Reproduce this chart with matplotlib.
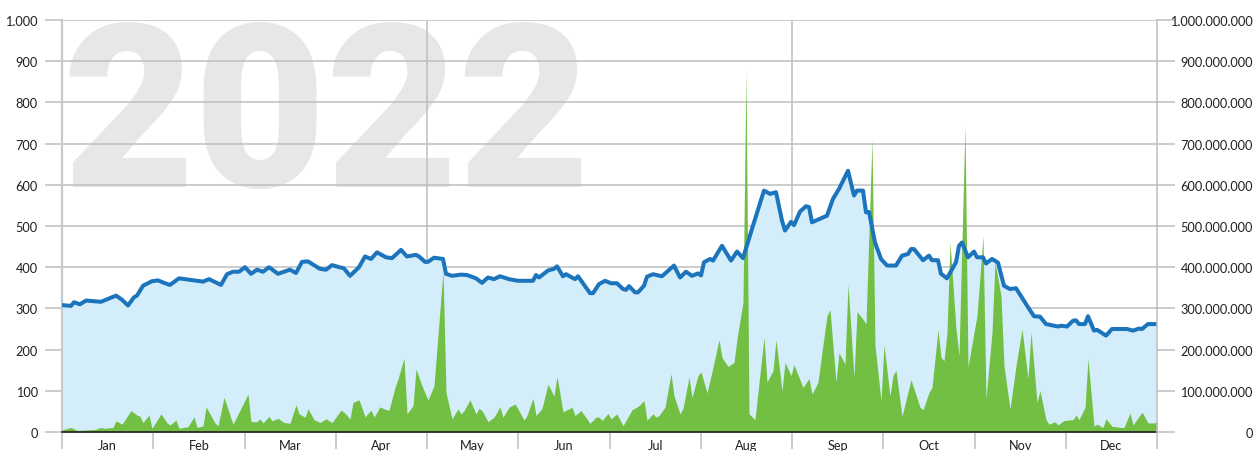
import numpy as np
import matplotlib.pyplot as plt
from matplotlib.ticker import FuncFormatter

plt.rcParams.update({'font.family': ['Lato', 'DejaVu Sans']})
plt.rcParams.update({'font.size': 9.2})

# Price (left axis) by day of year
price_day = [0, 3, 4, 6, 8, 13, 18, 20, 22, 24, 25, 27, 30, 32, 34, 36, 39, 42, 47, 49,
             53, 55, 57, 59, 61, 63, 65, 67, 69, 72, 74, 76, 78, 80, 82, 86, 88, 90, 94, 96,
             99, 101, 103, 105, 108, 110, 113, 115, 118, 119, 121, 122, 124, 127, 128, 130,
             133, 135, 138, 140, 142, 144, 146, 149, 152, 157, 158, 159, 162, 164, 165, 167,
             168, 171, 172, 176, 177, 179, 181, 183, 185, 187, 188, 189, 191, 192, 194, 195,
             197, 200, 204, 206, 208, 210, 212, 213, 214, 216, 217, 220, 223, 225, 227, 230,
             234, 236, 238, 240, 241, 243, 244, 246, 248, 249, 250, 255, 257, 259, 262, 264,
             265, 267, 268, 269, 271, 273, 275, 278, 280, 282, 283, 284, 287, 289, 290, 292,
             293, 295, 298, 299, 300, 302, 304, 305, 307, 308, 310, 312, 314, 316, 318, 322,
             324, 326, 328, 332, 333, 335, 337, 338, 339, 341, 342, 344, 345, 348, 350, 355,
             357, 359, 360, 362, 365]
price = [308, 306, 315, 310, 319, 316, 331, 321, 307, 327, 331, 355, 366, 368, 362, 357, 373, 370, 365, 371,
         357, 383, 389, 389, 400, 384, 394, 389, 400, 384, 389, 394, 386, 413, 414, 396, 394, 405, 397, 379,
         400, 426, 420, 436, 424, 422, 442, 426, 430, 426, 413, 413, 423, 420, 384, 379,
         382, 381, 373, 362, 375, 371, 378, 371, 367, 367, 381, 375, 392, 396, 402, 378,
         383, 371, 378, 337, 337, 359, 367, 361, 361, 347, 345, 354, 339, 339, 355, 377,
         383, 378, 404, 375, 389, 379, 385, 380, 412, 420, 416, 452, 416, 438, 422, 493,
         586, 578, 582, 513, 489, 510, 502, 535, 548, 546, 509, 525, 566, 590, 634, 574,
         586, 586, 533, 534, 460, 420, 404, 404, 428, 432, 444, 444, 417, 428, 417, 417,
         384, 373, 412, 452, 460, 424, 438, 424, 424, 409, 420, 411, 355, 347, 349, 303,
         281, 280, 262, 256, 258, 256, 270, 271, 262, 262, 281, 246, 248, 234, 250, 250,
         246, 251, 250, 262, 262]

# Volume in millions (right axis, same 0-1000 scale)
vol_day = [0, 3, 5, 11, 13, 14, 17, 18, 20, 23, 25, 26, 27, 29, 30, 33, 35, 36, 38, 39,
           42, 44, 45, 47, 48, 51, 52, 54, 57, 62, 63, 65, 66, 67, 69, 70, 72, 74, 76, 78,
           79, 81, 82, 84, 86, 88, 90, 93, 94, 96, 97, 99, 101, 103, 104, 106, 108, 109, 111,
           112, 114, 115, 117, 118, 120, 122, 124, 127, 128, 130, 132, 133, 134, 136, 138,
           139, 140, 142, 144, 146, 147, 149, 150, 151, 152, 154, 155, 157, 158, 160, 162,
           164, 165, 167, 170, 171, 173, 176, 178, 179, 180, 182, 183, 185, 187, 188, 190,
           192, 194, 195, 197, 198, 199, 201, 203, 204, 206, 207, 209, 210, 212, 213, 215,
           217, 219, 220, 222, 224, 225, 227, 228, 229, 231, 234, 235, 237, 238, 240, 241,
           243, 244, 247, 249, 250, 252, 253, 255, 256, 258, 259, 261, 262, 264, 265, 267,
           268, 270, 271, 273, 274, 276, 277, 278, 280, 283, 286, 287, 289, 290, 292, 293,
           294, 295, 296, 298, 299, 301, 302, 304, 305, 307, 308, 310, 311, 313, 314, 316,
           318, 320, 322, 323, 325, 326, 328, 329, 331, 332, 334, 337, 338, 339, 341, 342,
           344, 345, 347, 348, 350, 353, 354, 356, 357, 360, 362, 364, 365]
vol = [5, 11, 4, 6, 11, 9, 11, 27, 19, 52, 41, 38, 23, 41, 9, 44, 22, 17, 29, 9,
       13, 37, 11, 15, 61, 22, 15, 84, 19, 92, 25, 25, 32, 22, 38, 27, 33, 23, 21, 66,
       44, 36, 56, 30, 23, 32, 23, 53, 48, 32, 72, 78, 37, 53, 36, 61, 54, 53, 108,
       129, 179, 44, 64, 153, 112, 78, 112, 390, 96, 32, 56, 44, 52, 78, 44,
       57, 52, 25, 36, 61, 36, 60, 64, 68, 56, 29, 40, 82, 40, 57, 116,
       87, 135, 49, 60, 40, 52, 21, 36, 36, 28, 45, 32, 44, 15, 28, 54,
       62, 76, 29, 44, 36, 40, 60, 141, 88, 44, 57, 133, 84, 137, 146, 95,
       157, 224, 181, 159, 169, 227, 315, 877, 44, 30, 230, 121, 149, 224, 100, 169,
       137, 163, 108, 130, 92, 121, 177, 282, 297, 121, 192, 165, 359, 133, 292, 274,
       262, 711, 210, 76, 211, 88, 137, 149, 38, 127, 60, 54, 96, 108, 248, 181,
       173, 242, 460, 250, 185, 743, 157, 242, 282, 476, 80, 242, 412, 331, 161, 56,
       161, 250, 129, 242, 72, 100, 30, 19, 25, 17, 28, 30, 41, 30, 60, 177,
       14, 19, 11, 32, 14, 11, 11, 46, 17, 48, 22, 22, 25]

months = ['Jan', 'Feb', 'Mar', 'Apr', 'May', 'Jun', 'Jul', 'Aug', 'Sep', 'Oct', 'Nov', 'Dec']
year_label = '2022'

grid_c = '#bcbec0'
fig = plt.figure(figsize=(12.57, 4.52), dpi=100)
ax = fig.add_axes([62/1257, 19/452, 1095/1257, 412/452])
ax.set_xlim(0, 365)
ax.set_ylim(0, 1000)

ax.text(0.0, 597, year_label, fontsize=164, fontweight=900, family='Roboto',
        color='#e6e7e8', ha='left', va='baseline', zorder=0.1,
        transform=ax.get_yaxis_transform())

mw = 365/12
ax.set_axisbelow(True)
ax.yaxis.grid(True, color=grid_c, lw=1.1)
for k in (4, 8):
    ax.axvline(k*mw, color=grid_c, lw=1.1, zorder=0.5)

ax.fill_between(price_day, price, 0, color='#d3eefa', lw=0, zorder=1)
ax.fill_between(vol_day, vol, 0, color='#72bf44', lw=0, zorder=2)
ax.plot(price_day, price, color='#1c75bc', lw=2.9, solid_joinstyle='round', zorder=3)

ax.set_yticks(np.arange(0, 1001, 100))
ax.yaxis.set_major_formatter(FuncFormatter(lambda v, p: f'{int(v):,}'.replace(',', '.')))
ax.tick_params(axis='y', length=12.5, width=1.1, color=grid_c, pad=5, labelcolor='#231f20')

ax.set_xticks([k*mw for k in range(13)])
ax.set_xticklabels([])
ax.set_xticks([(k+0.5)*mw for k in range(12)], minor=True)
ax.set_xticklabels(months, minor=True)
ax.tick_params(axis='x', which='major', length=12.5, width=1.1, color=grid_c)
ax.tick_params(axis='x', which='minor', length=0, pad=5, labelcolor='#231f20')

for s in ('top', 'right'):
    ax.spines[s].set_visible(False)
ax.spines['left'].set_color('#c3cad0')
ax.spines['left'].set_linewidth(1.6)
ax.spines['bottom'].set_color('#231f20')
ax.spines['bottom'].set_linewidth(1.2)
ax.spines['bottom'].set_zorder(4)

ax2 = ax.twinx()
ax2.set_ylim(0, 1e9)
ax2.set_yticks(np.arange(0, 1e9 + 1, 1e8))
ax2.yaxis.set_major_formatter(FuncFormatter(lambda v, p: f'{int(v):,}'.replace(',', '.')))
ax2.tick_params(axis='y', length=13, width=1.1, color=grid_c, pad=56, labelcolor='#231f20')
for lab in ax2.get_yticklabels():
    lab.set_horizontalalignment('right')
for s in ('top', 'left', 'bottom'):
    ax2.spines[s].set_visible(False)
ax2.spines['right'].set_color(grid_c)
ax2.spines['right'].set_linewidth(1.1)

fig.savefig('out.png', dpi=100)
